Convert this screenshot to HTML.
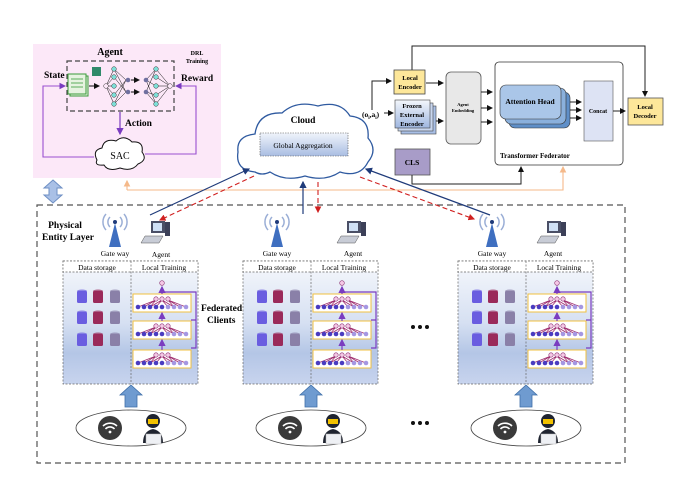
<!DOCTYPE html>
<html><head><meta charset="utf-8"><style>
html,body{margin:0;padding:0;background:#fff;}
svg{display:block;font-family:"Liberation Serif",serif;}
</style></head><body>
<svg width="685" height="484" viewBox="0 0 685 484" xmlns="http://www.w3.org/2000/svg">
<defs>
<linearGradient id="pg" x1="0" y1="0" x2="0" y2="1"><stop offset="0" stop-color="#f6f8fc"/><stop offset="0.5" stop-color="#d6e0f2"/><stop offset="0.75" stop-color="#b4c6e6"/><stop offset="1" stop-color="#c8d4ee"/></linearGradient>
<linearGradient id="ga" x1="0" y1="0" x2="0" y2="1"><stop offset="0" stop-color="#f0f4fb"/><stop offset="1" stop-color="#a9bde2"/></linearGradient>
<linearGradient id="fe" x1="0" y1="0" x2="0" y2="1"><stop offset="0" stop-color="#f4f7fc"/><stop offset="1" stop-color="#9eb6e0"/></linearGradient>
<marker id="ak" markerWidth="6" markerHeight="6" refX="5" refY="3" orient="auto"><path d="M0,0 L6,3 L0,6z" fill="#111"/></marker>
<marker id="ap" markerWidth="6" markerHeight="6" refX="5" refY="3" orient="auto"><path d="M0,0 L6,3 L0,6z" fill="#7a3cc0"/></marker>
<marker id="ab" markerWidth="6" markerHeight="6" refX="5" refY="3" orient="auto"><path d="M0,0 L6,3 L0,6z" fill="#1f3b7a"/></marker>
<marker id="ar" markerWidth="6" markerHeight="6" refX="5" refY="3" orient="auto"><path d="M0,0 L6,3 L0,6z" fill="#d02020"/></marker>
<marker id="ao" markerWidth="6" markerHeight="6" refX="5" refY="3" orient="auto"><path d="M0,0 L6,3 L0,6z" fill="#f5b98a"/></marker>
<g id="tower">
<path d="M0,10 L-6,34 L6,34z" fill="#3f6fc0"/>
<circle cx="0" cy="9" r="2" fill="#1f3b7a"/>
<path d="M-5,4 A7,7 0 0 0 -5,14 M5,4 A7,7 0 0 1 5,14 M-9,1 A12,12 0 0 0 -9,17 M9,1 A12,12 0 0 1 9,17" fill="none" stroke="#9aaed6" stroke-width="1.5"/>
</g>
<g id="pc">
<rect x="-6" y="0" width="14" height="12" fill="#4a4f66"/><rect x="-4" y="2" width="9" height="8" fill="#cfe0f5"/>
<rect x="8" y="1" width="5" height="14" fill="#3c4058"/>
<path d="M-12,15 L6,15 L2,22 L-16,22z" fill="#c8ccd6" stroke="#555" stroke-width="0.5"/>
</g>
<g id="cyl">
<rect x="-5" y="-6" width="10" height="12" rx="1.5"/><ellipse cx="0" cy="-6" rx="5" ry="1.5" opacity="0.7"/>
</g>
<g id="nb">
<rect x="0" y="0" width="58" height="18" fill="#fff" stroke="#f0c040" stroke-width="1"/>
<g stroke="#a03070" stroke-width="0.8">
<path d="M23,6 L5,13 M23,6 L11,13 M23,6 L17,13 M29,6 L23,13 M29,6 L35,13 M35,6 L41,13 M35,6 L47,13 M35,6 L53,13 M29,6 L17,13 M29,6 L41,13"/></g>
<g fill="#4a3cc0"><circle cx="5" cy="13" r="2.3"/><circle cx="11" cy="13" r="2.3"/><circle cx="17" cy="13" r="2.3"/><circle cx="23" cy="13" r="2.3"/><circle cx="29" cy="13" r="2.3"/></g>
<g fill="#a597e2"><circle cx="35" cy="13" r="2.3"/><circle cx="41" cy="13" r="2.3"/><circle cx="47" cy="13" r="2.3"/><circle cx="53" cy="13" r="2.3"/></g>
<g fill="#f5c8e6" stroke="#8a3070" stroke-width="0.6"><circle cx="23" cy="5" r="2.2"/><circle cx="29" cy="5" r="2.2"/><circle cx="35" cy="5" r="2.2"/></g>
</g>
<g id="panel">
<rect x="0" y="0" width="135" height="123" fill="url(#pg)" stroke="#666" stroke-width="0.7" stroke-dasharray="2,1.5"/>
<rect x="0" y="0" width="135" height="11" fill="#fff" stroke="#666" stroke-width="0.7" stroke-dasharray="2,1.5"/>
<line x1="68" y1="0" x2="68" y2="123" stroke="#666" stroke-width="0.7" stroke-dasharray="2,1.5"/>
<use href="#cyl" x="19" y="36" fill="#6a5de0"/><use href="#cyl" x="35" y="36" fill="#9a2a5a"/><use href="#cyl" x="52" y="36" fill="#8a80a8"/>
<use href="#cyl" x="19" y="57" fill="#6a5de0"/><use href="#cyl" x="35" y="57" fill="#9a2a5a"/><use href="#cyl" x="52" y="57" fill="#8a80a8"/>
<use href="#cyl" x="19" y="79" fill="#6a5de0"/><use href="#cyl" x="35" y="79" fill="#9a2a5a"/><use href="#cyl" x="52" y="79" fill="#8a80a8"/>
<use href="#nb" x="70" y="33"/><use href="#nb" x="70" y="60"/><use href="#nb" x="70" y="89"/>
<circle cx="99" cy="22" r="2.3" fill="#f5c8e6" stroke="#8a3070" stroke-width="0.6"/>
<g stroke="#7a3cc0" stroke-width="1.2" fill="none">
<line x1="99" y1="33" x2="99" y2="26" marker-end="url(#ap)"/>
<line x1="99" y1="60" x2="99" y2="52" marker-end="url(#ap)"/>
<line x1="99" y1="89" x2="99" y2="79" marker-end="url(#ap)"/>
<path d="M99,31 L133,31 L133,87 L128,87 M128,59 L133,59"/>
</g>
<path d="M62,146 L62,134 L57,134 L68,124 L79,134 L74,134 L74,146z" fill="#6f9bd0" stroke="#3f6fa8" stroke-width="0.8"/>
<ellipse cx="68" cy="167" rx="55" ry="18" fill="#fff" stroke="#444" stroke-width="0.8"/>
<circle cx="47" cy="167" r="12" fill="#3a3a3a"/>
<path d="M40,165 A10,10 0 0 1 54,165 M42.5,168 A6,6 0 0 1 51.5,168" fill="none" stroke="#fff" stroke-width="1.6"/><circle cx="47" cy="171" r="1.4" fill="#fff"/>
<path d="M80,182 Q80,170 90,168 Q100,170 100,182z" fill="#1f2430"/>
<circle cx="90" cy="160" r="7" fill="#1f2430"/><rect x="85" y="158" width="10" height="5" fill="#f2c200"/>
<rect x="83" y="173" width="15" height="10" fill="#eef0f4" stroke="#bbb" stroke-width="0.5"/>
</g>
</defs>

<!-- DRL pink area -->
<rect x="33" y="44" width="188" height="134" fill="#fce8f8"/>
<rect x="67" y="61" width="107" height="50" fill="none" stroke="#444" stroke-width="1.2" stroke-dasharray="5,3"/>
<text x="110" y="55" font-size="10" font-weight="bold" text-anchor="middle">Agent</text>
<text x="197" y="55" font-size="6" font-weight="bold" text-anchor="middle">DRL</text>
<text x="197" y="63" font-size="6" font-weight="bold" text-anchor="middle">Training</text>
<text x="44" y="78" font-size="9.5" font-weight="bold">State</text>
<text x="181" y="81" font-size="9.5" font-weight="bold">Reward</text>
<text x="125" y="126" font-size="9.5" font-weight="bold">Action</text>
<rect x="70" y="76" width="18" height="20" fill="#e6f3e0" stroke="#3a9a3a"/><rect x="68" y="74" width="18" height="20" fill="#e6f3e0" stroke="#3a9a3a"/>
<g stroke="#3a9a3a" stroke-width="0.8"><line x1="71" y1="79" x2="83" y2="79"/><line x1="71" y1="83" x2="83" y2="83"/><line x1="71" y1="87" x2="83" y2="87"/></g>
<rect x="92" y="67" width="9" height="9" fill="#2f8a6a"/>
<line x1="89" y1="86" x2="99" y2="86" stroke="#111" marker-end="url(#ak)"/>
<g stroke="#111" stroke-width="0.5" fill="none">
<path d="M106,86 L114,69 L126,80 M106,86 L114,77 L126,92 M106,86 L114,86 M106,86 L114,95 L126,80 M106,86 L114,104 L126,92 M114,69 L126,92 M114,104 L126,80"/>
<path d="M156,69 L170,86 M156,77 L170,86 M156,86 L170,86 M156,95 L170,86 M156,104 L170,86 M146,80 L156,69 M146,80 L156,104 M146,92 L156,69 M146,92 L156,104 M146,80 L156,86 M146,92 L156,95"/>
</g>
<g fill="#7de0d8" stroke="#333" stroke-width="0.5">
<circle cx="114" cy="69" r="2.3"/><circle cx="114" cy="77" r="2.3"/><circle cx="114" cy="86" r="2.3"/><circle cx="114" cy="95" r="2.3"/><circle cx="114" cy="104" r="2.3"/>
<circle cx="156" cy="69" r="2.3"/><circle cx="156" cy="77" r="2.3"/><circle cx="156" cy="86" r="2.3"/><circle cx="156" cy="95" r="2.3"/><circle cx="156" cy="104" r="2.3"/>
</g>
<g fill="#7070a0"><circle cx="128" cy="80" r="2.3"/><circle cx="128" cy="92" r="2.3"/><circle cx="146" cy="80" r="2.3"/><circle cx="146" cy="92" r="2.3"/></g>
<circle cx="106" cy="86" r="2.3" fill="#fce8f8" stroke="#333" stroke-width="0.5"/><circle cx="170" cy="86" r="2.3" fill="#fce8f8" stroke="#333" stroke-width="0.5"/>
<line x1="131" y1="80" x2="139" y2="80" stroke="#111" marker-end="url(#ak)"/><line x1="131" y1="92" x2="139" y2="92" stroke="#111" marker-end="url(#ak)"/>
<line x1="120" y1="112" x2="120" y2="134" stroke="#7a3cc0" stroke-width="1.2" marker-end="url(#ap)"/>
<path d="M97,160 Q92,150 102,148 Q104,138 116,141 Q124,134 132,142 Q144,141 142,152 Q148,160 138,164 Q132,172 120,168 Q108,172 104,165 Q94,166 97,160z" fill="#fff" stroke="#111" stroke-width="1"/>
<text x="120" y="159" font-size="10" text-anchor="middle">SAC</text>
<g stroke="#9a50d0" stroke-width="1.1" fill="none">
<path d="M94,157 L43,157 L43,86 L65,86" marker-end="url(#ap)"/>
<path d="M145,154 L196,154 L196,86 L176,86" marker-end="url(#ap)"/>
</g>

<!-- double arrow -->
<path d="M53,180 L62,188 L57,188 L57,195 L62,195 L53,203 L44,195 L49,195 L49,188 L44,188z" fill="#a9c0e6" stroke="#6e8fc4"/>

<!-- Cloud -->
<path d="M255,172 Q235,170 238,152 Q236,136 255,134 Q258,112 282,113 Q296,100 318,106 Q340,100 350,116 Q370,118 368,138 Q378,150 368,162 Q360,178 340,172 Q325,182 305,176 Q285,182 270,172 Q262,176 255,172z" fill="#fff" stroke="#2f5aa0" stroke-width="1.3"/>
<text x="303" y="123" font-size="9.5" font-weight="bold" text-anchor="middle">Cloud</text>
<rect x="260" y="133" width="88" height="23" fill="url(#ga)" stroke="#555" stroke-width="0.6" stroke-dasharray="1.5,1"/>
<text x="303" y="148" font-size="7.5" text-anchor="middle">Global Aggregation</text>

<!-- Right transformer part -->
<path d="M412,70 L412,46 L645,46 L645,96" fill="none" stroke="#222" marker-end="url(#ak)"/>
<rect x="394" y="70" width="31" height="24" fill="#fde79a" stroke="#444" stroke-width="0.8"/>
<text x="410" y="80" font-size="6.5" font-weight="bold" text-anchor="middle">Local</text>
<text x="410" y="89" font-size="6.5" font-weight="bold" text-anchor="middle">Encoder</text>
<rect x="401" y="106" width="35" height="28" fill="#a8bfe6" stroke="#444" stroke-width="0.6"/>
<rect x="398" y="103" width="35" height="28" fill="#c8d6ef" stroke="#444" stroke-width="0.6"/>
<rect x="395" y="100" width="35" height="28" fill="url(#fe)" stroke="#444" stroke-width="0.6"/>
<text x="412" y="108" font-size="6.5" font-weight="bold" text-anchor="middle">Frozen</text>
<text x="412" y="117" font-size="6.5" font-weight="bold" text-anchor="middle">External</text>
<text x="412" y="126" font-size="6.5" font-weight="bold" text-anchor="middle">Encoder</text>
<text x="362" y="117" font-size="7.5" font-weight="bold">(o<tspan font-size="5" dy="2">i</tspan><tspan dy="-2">,a</tspan><tspan font-size="5" dy="2">i</tspan><tspan dy="-2">)</tspan></text>
<path d="M372,110 L372,81 L391,81" fill="none" stroke="#222" marker-end="url(#ak)"/>
<line x1="384" y1="113" x2="393" y2="113" stroke="#222" marker-end="url(#ak)"/>
<line x1="426" y1="83" x2="443" y2="83" stroke="#222" marker-end="url(#ak)"/>
<line x1="436" y1="121" x2="443" y2="121" stroke="#222" marker-end="url(#ak)"/>
<rect x="446" y="72" width="35" height="72" rx="5" fill="#e8e8e8" stroke="#555" stroke-width="0.8"/>
<text x="463" y="106" font-size="4.5" font-weight="bold" text-anchor="middle">Agent</text>
<text x="463" y="112" font-size="4.5" font-weight="bold" text-anchor="middle">Embedding</text>
<line x1="481" y1="92" x2="492" y2="92" stroke="#222" marker-end="url(#ak)"/>
<line x1="481" y1="108" x2="492" y2="108" stroke="#222" marker-end="url(#ak)"/>
<line x1="481" y1="122" x2="492" y2="122" stroke="#222" marker-end="url(#ak)"/>
<rect x="495" y="62" width="128" height="103" rx="4" fill="#fff" stroke="#333" stroke-width="0.8"/>
<rect x="509" y="92" width="61" height="36" rx="6" fill="#5f8fc8" stroke="#333" stroke-width="0.6"/>
<rect x="505" y="88" width="61" height="36" rx="6" fill="#8ab0dc" stroke="#333" stroke-width="0.6"/>
<rect x="500" y="85" width="61" height="34" rx="6" fill="#aac6e8" stroke="#333" stroke-width="0.6"/>
<text x="530" y="104" font-size="7.5" font-weight="bold" text-anchor="middle">Attention Head</text>
<line x1="570" y1="102" x2="581" y2="102" stroke="#222" marker-end="url(#ak)"/>
<line x1="570" y1="110" x2="581" y2="110" stroke="#222" marker-end="url(#ak)"/>
<line x1="570" y1="118" x2="581" y2="118" stroke="#222" marker-end="url(#ak)"/>
<rect x="584" y="81" width="29" height="60" fill="#dde3f4" stroke="#555" stroke-width="0.6"/>
<text x="598" y="113" font-size="6" font-weight="bold" text-anchor="middle">Concat</text>
<line x1="613" y1="111" x2="625" y2="111" stroke="#222" marker-end="url(#ak)"/>
<rect x="628" y="98" width="35" height="27" fill="#fde79a" stroke="#555" stroke-width="0.8"/>
<text x="645" y="109" font-size="6.5" font-weight="bold" text-anchor="middle">Local</text>
<text x="645" y="118" font-size="6.5" font-weight="bold" text-anchor="middle">Decoder</text>
<text x="500" y="158" font-size="7" font-weight="bold">Transformer Federator</text>
<rect x="395" y="149" width="35" height="26" fill="#a89cc8" stroke="#555" stroke-width="0.8"/>
<text x="412" y="165" font-size="7.5" font-weight="bold" text-anchor="middle">CLS</text>
<path d="M412,175 L412,184 L521,184 L521,167" fill="none" stroke="#222" marker-end="url(#ak)"/>
<path d="M127,190 L563,190 L563,167" fill="none" stroke="#f5b98a" stroke-width="1.1" marker-end="url(#ao)"/>
<line x1="127" y1="190" x2="127" y2="181" stroke="#f5b98a" stroke-width="1.1" marker-end="url(#ao)"/>

<!-- outer dashed box -->
<rect x="37" y="205" width="588" height="258" fill="none" stroke="#555" stroke-width="1.2" stroke-dasharray="6,4"/>
<text x="65" y="228" font-size="9.5" font-weight="bold" text-anchor="middle">Physical</text>
<text x="68" y="240" font-size="9.5" font-weight="bold" text-anchor="middle">Entity Layer</text>

<!-- connections -->
<line x1="150" y1="215" x2="249" y2="169" stroke="#1f3b7a" stroke-width="1.2" marker-end="url(#ab)"/>
<line x1="254" y1="176" x2="160" y2="220" stroke="#d02020" stroke-width="1.1" stroke-dasharray="5,3" marker-end="url(#ar)"/>
<line x1="303" y1="214" x2="303" y2="182" stroke="#1f3b7a" stroke-width="1.2" marker-end="url(#ab)"/>
<line x1="318" y1="182" x2="318" y2="212" stroke="#d02020" stroke-width="1.1" stroke-dasharray="5,3" marker-end="url(#ar)"/>
<line x1="490" y1="215" x2="366" y2="169" stroke="#1f3b7a" stroke-width="1.2" marker-end="url(#ab)"/>
<line x1="360" y1="177" x2="474" y2="219" stroke="#d02020" stroke-width="1.1" stroke-dasharray="5,3" marker-end="url(#ar)"/>

<!-- client 1 -->
<g transform="translate(63,261)">
<use href="#panel"/>
<use href="#tower" x="52" y="-48"/>
<use href="#pc" x="94" y="-40"/>
<text x="52" y="-5" font-size="7.5" text-anchor="middle">Gate way</text>
<text x="98" y="-4" font-size="7.5" text-anchor="middle">Agent</text>
<text x="34" y="9" font-size="7.5" text-anchor="middle">Data storage</text>
<text x="101" y="9" font-size="7.5" text-anchor="middle">Local Training</text>
</g>
<!-- client 2 -->
<g transform="translate(243,261)">
<use href="#panel"/>
<use href="#tower" x="34" y="-48"/>
<use href="#pc" x="110" y="-40"/>
<text x="34" y="-5" font-size="7.5" text-anchor="middle">Gate way</text>
<text x="110" y="-5" font-size="7.5" text-anchor="middle">Agent</text>
<text x="34" y="9" font-size="7.5" text-anchor="middle">Data storage</text>
<text x="101" y="9" font-size="7.5" text-anchor="middle">Local Training</text>
</g>
<!-- client 3 -->
<g transform="translate(458,261)">
<use href="#panel"/>
<use href="#tower" x="34" y="-48"/>
<use href="#pc" x="95" y="-40"/>
<text x="34" y="-5" font-size="7.5" text-anchor="middle">Gate way</text>
<text x="95" y="-5" font-size="7.5" text-anchor="middle">Agent</text>
<text x="34" y="9" font-size="7.5" text-anchor="middle">Data storage</text>
<text x="101" y="9" font-size="7.5" text-anchor="middle">Local Training</text>
</g>
<text x="201" y="311" font-size="9.5" font-weight="bold">Federated</text>
<text x="207" y="323" font-size="9.5" font-weight="bold">Clients</text>
<g fill="#111"><circle cx="413" cy="327" r="2"/><circle cx="420" cy="327" r="2"/><circle cx="427" cy="327" r="2"/>
<circle cx="413" cy="423" r="2"/><circle cx="420" cy="423" r="2"/><circle cx="427" cy="423" r="2"/></g>
</svg>
</body></html>
